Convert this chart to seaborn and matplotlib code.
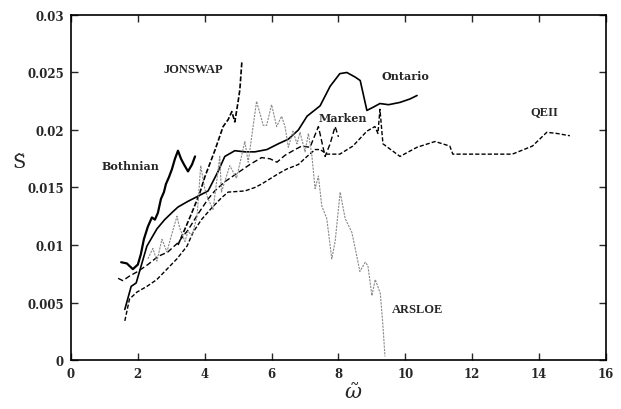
import matplotlib
matplotlib.use("Agg")
import matplotlib.pyplot as plt
import seaborn as sns
import numpy as np

# Dimensionless spectral level S~ against dimensionless frequency w~
bothnian_x = [1.50, 1.67, 1.85, 2.00, 2.09, 2.18, 2.30, 2.42, 2.51, 2.60, 2.69, 2.78,
              2.84, 2.93, 3.02, 3.11, 3.20, 3.29, 3.38, 3.50, 3.62, 3.71]
bothnian_y = [0.0085, 0.0084, 0.0079, 0.0083, 0.0092, 0.0105, 0.0116, 0.0124, 0.0122,
              0.0128, 0.0140, 0.0146, 0.0153, 0.0159, 0.0166, 0.0175, 0.0182, 0.0175,
              0.0170, 0.0164, 0.0170, 0.0177]

ontario_x = [1.61, 1.80, 1.95, 2.07, 2.27, 2.57, 2.80, 3.05, 3.20, 3.50, 3.77, 3.90,
             4.10, 4.40, 4.60, 4.90, 5.20, 5.50, 5.86, 6.20, 6.50, 6.80, 7.06, 7.45,
             7.75, 8.04, 8.25, 8.50, 8.65, 8.85, 9.05, 9.24, 9.50, 9.84, 10.14, 10.35]
ontario_y = [0.0044, 0.0064, 0.0067, 0.0079, 0.0099, 0.0114, 0.0122, 0.0129, 0.0133,
             0.0138, 0.0142, 0.0144, 0.0147, 0.0164, 0.0177, 0.0182, 0.0181, 0.0181,
             0.0183, 0.0188, 0.0192, 0.0200, 0.0212, 0.0221, 0.0238, 0.0249, 0.0250,
             0.0246, 0.0243, 0.0217, 0.0220, 0.0223, 0.0222, 0.0224, 0.0227, 0.0230]

jonswap_x = [3.20, 3.35, 3.60, 3.85, 4.00, 4.30, 4.55, 4.70, 4.81, 4.90, 5.00, 5.05, 5.11]
jonswap_y = [0.0100, 0.0110, 0.0127, 0.0145, 0.0159, 0.0182, 0.0203, 0.0209, 0.0216,
             0.0207, 0.0225, 0.0235, 0.0259]

marken_x = [1.41, 1.55, 1.75, 2.00, 2.30, 2.60, 2.90, 3.20, 3.50, 3.80, 4.10, 4.30,
            4.60, 4.90, 5.35, 5.70, 5.95, 6.16, 6.40, 6.70, 6.90, 7.15, 7.40, 7.60,
            7.75, 7.90, 8.00]
marken_y = [0.0071, 0.0069, 0.0073, 0.0077, 0.0083, 0.0090, 0.0094, 0.0102, 0.0113,
            0.0127, 0.0140, 0.0147, 0.0155, 0.0161, 0.0170, 0.0176, 0.0175, 0.0172,
            0.0178, 0.0183, 0.0186, 0.0185, 0.0203, 0.0177, 0.0188, 0.0203, 0.0194]

qeii_x = [1.61, 1.75, 1.97, 2.27, 2.57, 2.87, 3.17, 3.47, 3.65, 3.90, 4.20, 4.50,
          4.70, 5.20, 5.50, 5.70, 6.20, 6.45, 6.80, 7.06, 7.30, 7.45, 7.66, 8.04,
          8.43, 8.85, 9.09, 9.18, 9.24, 9.33, 9.84, 10.35, 10.89, 11.33, 11.42, 12.44,
          13.20, 13.80, 14.23, 14.53, 14.92]
qeii_y = [0.0034, 0.0053, 0.0059, 0.0064, 0.0070, 0.0079, 0.0088, 0.0099, 0.0111,
          0.0122, 0.0132, 0.0141, 0.0146, 0.0147, 0.0150, 0.0153, 0.0162, 0.0166,
          0.0170, 0.0177, 0.0183, 0.0183, 0.0179, 0.0179, 0.0186, 0.0199, 0.0203,
          0.0197, 0.0218, 0.0188, 0.0177, 0.0185, 0.0190, 0.0186, 0.0179, 0.0179,
          0.0179, 0.0186, 0.0198, 0.0197, 0.0195]

arsloe_x = [2.30, 2.45, 2.57, 2.72, 2.87, 3.00, 3.17, 3.25, 3.41, 3.50, 3.62, 3.77,
            3.88, 4.00, 4.10, 4.25, 4.45, 4.50, 4.75, 4.95, 5.20, 5.30, 5.55, 5.75,
            5.85, 6.00, 6.15, 6.30, 6.40, 6.50, 6.64, 6.76, 6.85, 7.00, 7.10, 7.20,
            7.30, 7.40, 7.50, 7.65, 7.80, 7.90, 8.05, 8.20, 8.40, 8.55, 8.64, 8.80,
            8.88, 9.00, 9.10, 9.25, 9.33, 9.39]
arsloe_y = [0.0088, 0.0097, 0.0086, 0.0105, 0.0094, 0.0108, 0.0125, 0.0115, 0.0103,
            0.0112, 0.0108, 0.0125, 0.0169, 0.0149, 0.0140, 0.0131, 0.0177, 0.0146,
            0.0169, 0.0158, 0.0190, 0.0172, 0.0225, 0.0204, 0.0204, 0.0222, 0.0203,
            0.0212, 0.0203, 0.0185, 0.0199, 0.0188, 0.0198, 0.0181, 0.0197, 0.0179,
            0.0149, 0.0160, 0.0134, 0.0123, 0.0088, 0.0103, 0.0146, 0.0123, 0.0111,
            0.0090, 0.0077, 0.0085, 0.0082, 0.0056, 0.0070, 0.0058, 0.0030, 0.0003]

x_ticks = [0, 2, 4, 6, 8, 10, 12, 14, 16]
y_ticks = [0, 0.005, 0.01, 0.015, 0.02, 0.025, 0.03]
y_tick_labels = ["0", "0.005", "0.01", "0.015", "0.02", "0.025", "0.03"]

sns.set_style("ticks")
plt.rcParams["font.family"] = ["DejaVu Serif", "DejaVu Sans"]
plt.rcParams["mathtext.fontset"] = "dejavuserif"

fig = plt.figure(figsize=(6.21, 4.10), dpi=100)
ax = fig.add_axes([0.1143, 0.1195, 0.8615, 0.8415])

series = [
    (bothnian_x, bothnian_y, dict(color="black", lw=1.6, linestyle="-")),
    (ontario_x, ontario_y, dict(color="black", lw=1.2, linestyle="-")),
    (jonswap_x, jonswap_y, dict(color="black", lw=1.2, linestyle=(0, (3, 1.2)))),
    (marken_x, marken_y, dict(color="black", lw=1.0, linestyle=(0, (4, 2)))),
    (qeii_x, qeii_y, dict(color="black", lw=1.0, linestyle=(0, (3, 1.5)))),
    (arsloe_x, arsloe_y, dict(color="#8a8a8a", lw=0.8, linestyle=(0, (2, 1)))),
]
for xs, ys, style in series:
    sns.lineplot(x=xs, y=ys, ax=ax, sort=False, estimator=None, **style)

# two type faces are used for the curve names
narrow_font = dict(fontsize=9, fontweight="bold", family="Liberation Serif",
                   ha="center", va="center")
wide_font = dict(fontsize=8, fontweight="bold", family="DejaVu Serif",
                 ha="center", va="center")
ax.text(3.65, 0.0253, "JONSWAP", **narrow_font)
ax.text(1.79, 0.0169, "Bothnian", **wide_font)
ax.text(9.99, 0.0247, "Ontario", **wide_font)
ax.text(8.13, 0.0211, "Marken", **wide_font)
ax.text(14.17, 0.0216, "QEII", **narrow_font)
ax.text(10.38, 0.0044, "ARSLOE", **narrow_font)

ax.set_xlim(0, 16)
ax.set_ylim(0, 0.03)
ax.set_xticks(x_ticks)
ax.set_xticklabels([str(t) for t in x_ticks])
ax.set_yticks(y_ticks)
ax.set_yticklabels(y_tick_labels)
ax.tick_params(direction="in", length=5, width=1.0, top=True, right=True,
               labelsize=8.5, pad=5)
for lab in ax.get_xticklabels() + ax.get_yticklabels():
    lab.set_fontweight("bold")
for sp in ax.spines.values():
    sp.set_visible(True)
    sp.set_linewidth(1.2)
    sp.set_color("black")

ax.set_xlabel(r"$\tilde{\omega}$", fontsize=15, va="center")
ax.xaxis.set_label_coords(0.528, -0.093)
ax.set_ylabel("S\u0303", fontsize=14, rotation=0, va="center", family="DejaVu Serif")
ax.yaxis.set_label_coords(-0.097, 0.574)

fig.savefig("out.png", dpi=100)
